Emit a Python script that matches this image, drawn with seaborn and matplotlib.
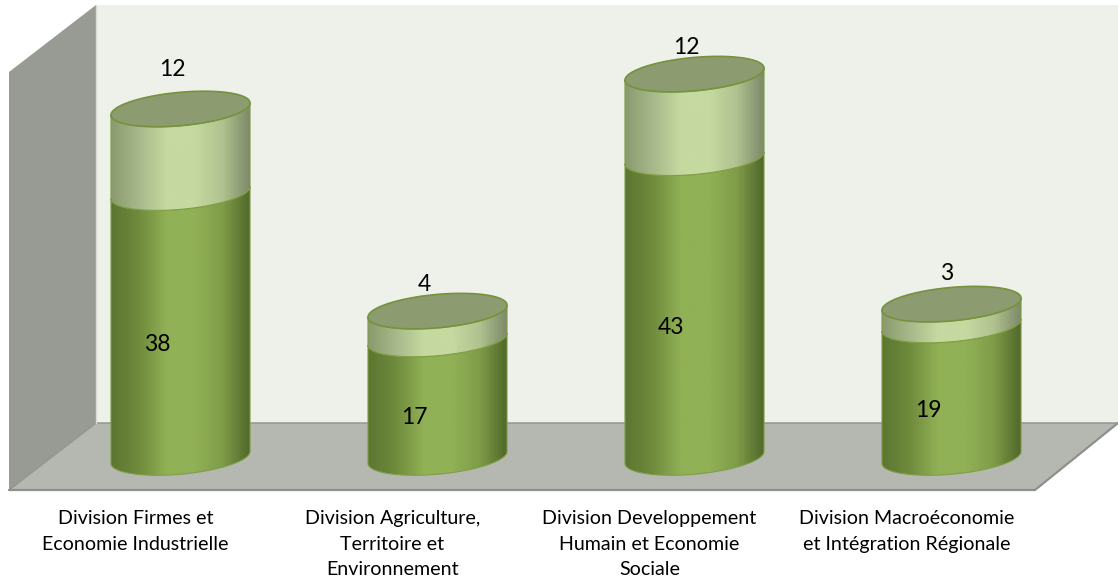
import numpy as np
import pandas as pd
import matplotlib
matplotlib.use('Agg')
import matplotlib.pyplot as plt
from matplotlib.colors import LinearSegmentedColormap
from matplotlib.patches import Polygon, PathPatch
from matplotlib.path import Path
from matplotlib.transforms import Affine2D
import seaborn as sns

categories = ['Division Firmes et\nEconomie Industrielle',
              'Division Agriculture,\nTerritoire et\nEnvironnement',
              'Division Developpement\nHumain et Economie\nSociale',
              'Division Macroéconomie\net Intégration Régionale']
lower_values = [38, 17, 43, 19]
upper_values = [12, 4, 12, 3]

# where the upper labels sit relative to the top of each cylinder
upper_label_dx = [-0.03, -0.05, -0.03, -0.02]
upper_label_dy = [5.6, 3.8, 3.8, 4.4]

PX_PER_UNIT = 6.97
PX_PER_CAT = 257.0
ZERO_PX = 457.5
W, H = 1118, 582

sns.set_theme(style='white')
plt.rcParams['font.family'] = ['Lato', 'DejaVu Sans']

df = pd.DataFrame({'division': categories, 'lower': lower_values, 'upper': upper_values})
df['total'] = df['lower'] + df['upper']

fig = plt.figure(figsize=(W / 100, H / 100), dpi=100)
fig.patch.set_facecolor('white')
ax = fig.add_axes([0, 0, 1, 1])
ax.patch.set_visible(False)

# the chart box: walls and floor, in pixels of the figure
px = Affine2D().scale(1 / W, -1 / H).translate(0, 1) + fig.transFigure
fig.add_artist(Polygon([(96, 5), (1118, 5), (1118, 423), (96, 423)], transform=px,
                       fc='#eef1ea', ec='none', zorder=-3))
fig.add_artist(Polygon([(9, 72), (96, 5), (96, 423), (9, 490)], transform=px,
                       fc='#989a94', ec='none', zorder=-3))
fig.add_artist(Polygon([(9, 490), (96, 423), (1118, 423), (1035, 490)], transform=px,
                       fc='#b5b7b1', ec='none', zorder=-2))
fig.add_artist(plt.Line2D([9, 1035, 1118], [490, 490, 423], transform=px,
                          color='#8f908c', lw=1.6, zorder=-1))
fig.add_artist(plt.Line2D([9, 96, 1118], [490, 423, 423], transform=px,
                          color='#959692', lw=1.1, zorder=-1))
fig.add_artist(plt.Line2D([96, 96], [5, 423], transform=px,
                          color='#d9dcd5', lw=1.0, zorder=-1))

# bars come from seaborn, then get turned into cylinders below
sns.barplot(data=df, x='division', y='total', color='#c3d69b', width=0.541, ax=ax)
n_bars = len(ax.patches)
sns.barplot(data=df, x='division', y='lower', color='#8fb055', width=0.541, ax=ax)

dark_cmap = LinearSegmentedColormap.from_list(
    'dark', ['#5c7631', '#6f8b3c', '#91b156', '#91b156', '#7f9c48', '#4f6629'])
light_cmap = LinearSegmentedColormap.from_list(
    'light', ['#8a9a6e', '#a7b98a', '#c5d9a0', '#c5d9a0', '#b0c28f', '#7b8768'])

MINOR = 2.4   # half height of the ellipse, in value units
TILT = 0.86   # right side sits higher than the left
t = np.linspace(np.pi, 2 * np.pi, 80)


def front_arc(xc, half, v):
    return xc + half * np.cos(t), v + TILT * np.cos(t) + MINOR * np.sin(t)


def body(x0, width, v0, v1, cmap, zorder):
    xc, half = x0 + width / 2, width / 2
    xa, ya = front_arc(xc, half, v0)
    xb, yb = front_arc(xc, half, v1)
    pts = np.column_stack([np.r_[xa, xb[::-1]], np.r_[ya, yb[::-1]]])
    outline = PathPatch(Path(np.vstack([pts, pts[0]])), fc='none', ec='#7f9e45', lw=0.8, zorder=zorder + 0.1)
    ax.add_patch(outline)
    im = ax.imshow(np.linspace(0, 1, 256)[None, :], cmap=cmap, aspect='auto',
                   extent=(x0, x0 + width, v0 - 5, v1 + 5), zorder=zorder)
    im.set_clip_path(outline)


def top_cap(x0, width, v, zorder):
    s = np.linspace(0, 2 * np.pi, 160)
    xc, half = x0 + width / 2, width / 2
    pts = np.column_stack([xc + half * np.cos(s), v + TILT * np.cos(s) + MINOR * np.sin(s)])
    ax.add_patch(Polygon(pts, closed=True, fc='#8c9c70', ec='#76923c', lw=1.2, zorder=zorder))


totals = ax.patches[:n_bars]
lowers = ax.patches[n_bars:]
for i, (bt, bl) in enumerate(zip(totals, lowers)):
    x0, width = bt.get_x(), bt.get_width()
    xc = x0 + width / 2
    lo, tot = bl.get_height(), bt.get_height()
    bt.set_visible(False)
    bl.set_visible(False)
    body(x0, width, 0, lo, dark_cmap, 3)
    body(x0, width, lo, tot, light_cmap, 3.2)
    top_cap(x0, width, tot, 3.5)
    ax.text(xc - 0.09, lo / 2 - 2.8, str(df['lower'][i]), ha='center', va='center',
            fontsize=16.5, color='black', zorder=5)
    ax.text(xc + upper_label_dx[i], tot + upper_label_dy[i], str(df['upper'][i]),
            ha='center', va='center', fontsize=16.5, color='black', zorder=5)
    ax.text(xc - 0.175, -7.6, categories[i], ha='center', va='top', fontsize=14.1,
            linespacing=1.6, color='black', zorder=5)

# same scale as the picture: first category at x=180.5 px
ax.set_xlim(-180.5 / PX_PER_CAT, (W - 180.5) / PX_PER_CAT)
ax.set_ylim((ZERO_PX - H) / PX_PER_UNIT, ZERO_PX / PX_PER_UNIT)
ax.axis('off')

fig.savefig('out.png', dpi=100)
